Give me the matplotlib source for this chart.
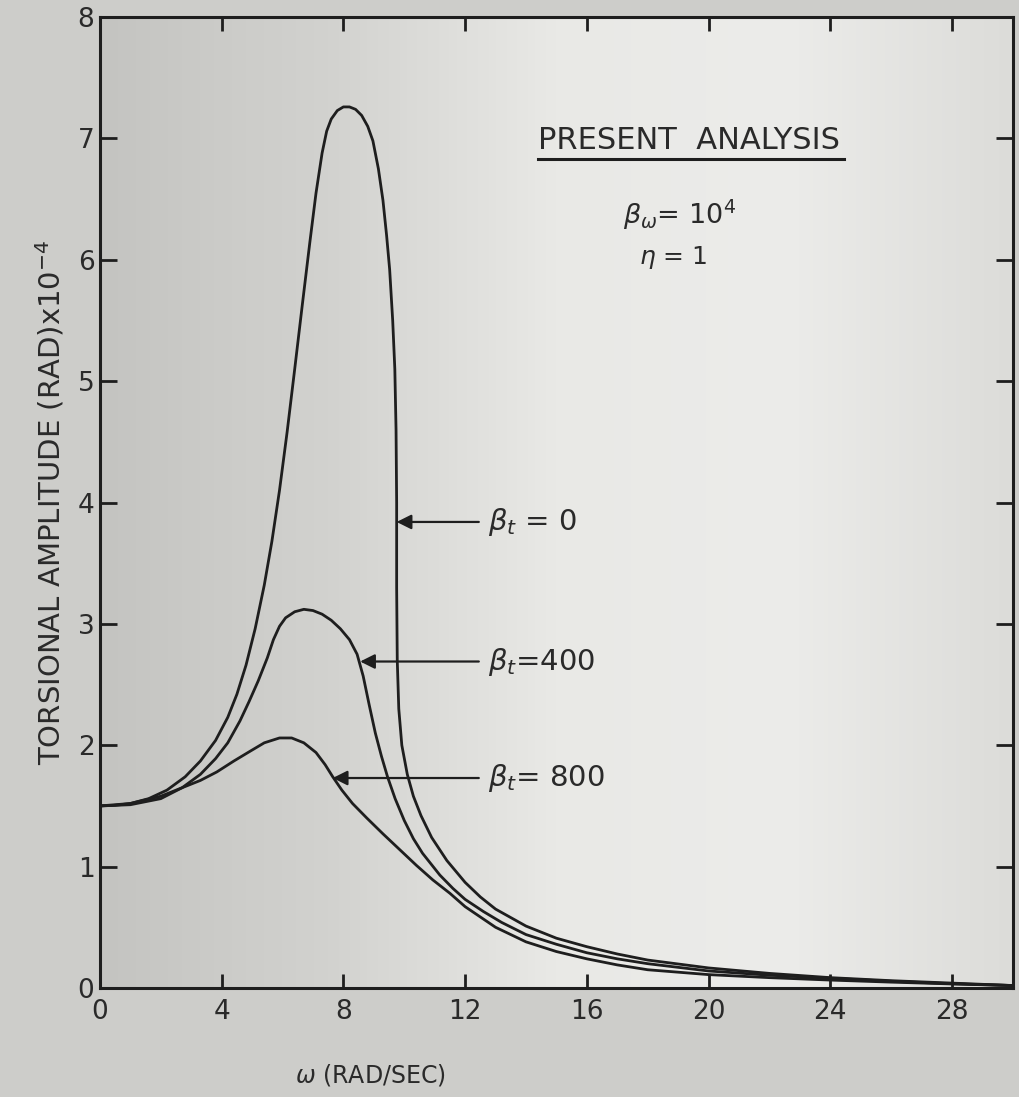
import matplotlib
matplotlib.use('Agg')
import matplotlib.pyplot as plt
from matplotlib.lines import Line2D
from matplotlib.colors import LinearSegmentedColormap
import numpy as np

# omega (rad/sec) and torsional amplitude (x 1e-4 rad)
w_0 = [0, 0.5, 1.0, 1.6, 2.2, 2.8, 3.3, 3.8, 4.2, 4.5, 4.8, 5.1, 5.4, 5.65,
       5.9, 6.15, 6.4, 6.65, 6.9, 7.1, 7.3, 7.45, 7.6, 7.8, 8.0, 8.2, 8.4, 8.6,
       8.8, 8.97, 9.15, 9.3, 9.42, 9.52, 9.62, 9.69, 9.73, 9.75, 9.75, 9.77,
       9.82, 9.92, 10.1, 10.3, 10.55, 10.9, 11.4, 12.0, 12.5, 13.0, 14.0, 15.0,
       16.0, 17.0, 18.0, 20.0, 22, 24, 26, 28, 30]
amp_0 = [1.50, 1.505, 1.52, 1.56, 1.63, 1.74, 1.87, 2.04, 2.23, 2.42, 2.66,
         2.96, 3.32, 3.68, 4.10, 4.58, 5.10, 5.63, 6.15, 6.55, 6.88, 7.06, 7.16,
         7.23, 7.26, 7.26, 7.24, 7.19, 7.10, 6.98, 6.75, 6.49, 6.20, 5.92, 5.50,
         5.10, 4.60, 4.00, 3.30, 2.70, 2.30, 2.00, 1.76, 1.58, 1.42, 1.24, 1.05,
         0.87, 0.75, 0.65, 0.51, 0.41, 0.34, 0.28, 0.23, 0.165, 0.12, 0.085,
         0.06, 0.04, 0.02]

w_400 = [0, 1.0, 2.0, 2.7, 3.3, 3.8, 4.2, 4.6, 4.9, 5.2, 5.5, 5.7, 5.9, 6.1,
         6.4, 6.7, 7.0, 7.3, 7.6, 7.9, 8.2, 8.45, 8.65, 8.85, 9.05, 9.25, 9.45,
         9.7, 10.0, 10.3, 10.6, 11.17, 11.6, 12.0, 12.6, 13.2, 14.0, 15.0, 16.0,
         17.0, 18.0, 20.0, 22, 24, 26, 28, 30]
amp_400 = [1.50, 1.51, 1.56, 1.65, 1.76, 1.89, 2.02, 2.20, 2.36, 2.53, 2.72,
           2.87, 2.98, 3.05, 3.10, 3.12, 3.11, 3.08, 3.03, 2.96, 2.87, 2.75,
           2.57, 2.33, 2.10, 1.91, 1.74, 1.56, 1.38, 1.23, 1.11, 0.93, 0.82,
           0.73, 0.63, 0.54, 0.44, 0.36, 0.29, 0.24, 0.20, 0.14, 0.105, 0.08,
           0.055, 0.035, 0.02]

w_800 = [0, 1.0, 2.0, 2.7, 3.3, 3.84, 4.4, 4.93, 5.4, 5.9, 6.3, 6.7, 7.1, 7.4,
         7.65, 7.95, 8.3, 8.77, 9.3, 9.85, 10.4, 10.94, 11.5, 12.0, 13.0, 14.0,
         15.0, 16.0, 17.0, 18.0, 20.0, 22, 24, 26, 28, 30]
amp_800 = [1.50, 1.52, 1.58, 1.65, 1.71, 1.78, 1.87, 1.95, 2.02, 2.06, 2.06,
           2.02, 1.94, 1.84, 1.74, 1.63, 1.52, 1.40, 1.27, 1.14, 1.01, 0.89,
           0.78, 0.67, 0.50, 0.38, 0.30, 0.24, 0.19, 0.15, 0.11, 0.085, 0.065,
           0.048, 0.033, 0.02]

labels = [r'$\beta_t$ = 0', r'$\beta_t$=400', r'$\beta_t$= 800']
arrow_tips = [(9.75, 3.84), (8.55, 2.69), (7.65, 1.73)]

x_ticks = [0, 4, 8, 12, 16, 20, 24, 28]
y_ticks = [0, 1, 2, 3, 4, 5, 6, 7, 8]

plt.rcParams['mathtext.fontset'] = 'dejavusans'
ink = '#1e1e1e'
txt = '#2a2a2a'

fig = plt.figure(figsize=(10.2, 10.97), dpi=100, facecolor='#cdcdca')
ax = fig.add_axes([0.098, 0.0994, 0.895, 0.885])

# greyish scan-like backdrop, darker on the left
paper = LinearSegmentedColormap.from_list(
    'paper', ['#c4c4c1', '#d2d2cf', '#e9e9e6', '#ececea', '#dcdcd9'])
ax.imshow(np.linspace(0, 1, 256).reshape(1, -1), cmap=paper, aspect='auto',
          extent=[0, 1, 0, 1], transform=ax.transAxes, zorder=0)

for w, a in [(w_0, amp_0), (w_400, amp_400), (w_800, amp_800)]:
    ax.plot(w, a, color=ink, lw=2.0, solid_joinstyle='round', zorder=3)

ax.set_xlim(0, 30)
ax.set_ylim(0, 8)
ax.set_xticks(x_ticks)
ax.set_yticks(y_ticks)
ax.tick_params(axis='both', direction='in', top=True, right=True,
               width=2, colors=ink, labelsize=19, labelcolor=txt)
ax.tick_params(axis='x', length=10, pad=8)
ax.tick_params(axis='y', length=12, pad=4)
for s in ax.spines.values():
    s.set_linewidth(2.2)
    s.set_color(ink)

ax.set_ylabel(r'TORSIONAL AMPLITUDE (RAD)x10$^{-4}$', fontsize=21,
              color=txt, labelpad=8)
fig.text(370 / 1020, 1 - 1075 / 1097, r'$\omega$ (RAD/SEC)', fontsize=17,
         color=txt, ha='center', va='center')

# curve labels with arrows
for lab, (xt, yt) in zip(labels, arrow_tips):
    ax.annotate('', xy=(xt, yt), xytext=(12.45, yt),
                arrowprops=dict(arrowstyle='-|>', color=ink, lw=1.6,
                                mutation_scale=22, shrinkA=0, shrinkB=0),
                zorder=4)
    ax.text(12.75, yt, lab, fontsize=21, color=txt, va='center')

title = ax.text(14.4, 6.98, 'PRESENT  ANALYSIS', fontsize=22,
                color=txt, va='center')
ax.text(17.2, 6.37, r'$\beta_\omega$= 10$^4$', fontsize=19.5, color=txt,
        va='center')
ax.text(17.7, 6.02, r'$\eta$ = 1', fontsize=18, color=txt, va='center')

# underline under the heading
fig.canvas.draw()
bb = title.get_window_extent()
inv = fig.transFigure.inverted()
(x0, y0), (x1, _) = inv.transform([(bb.x0, bb.y0 - 4), (bb.x1 + 4, bb.y0)])
fig.add_artist(Line2D([x0, x1], [y0, y0], color=ink, lw=2.2,
                      transform=fig.transFigure))

fig.savefig('out.png', dpi=100, facecolor=fig.get_facecolor())
